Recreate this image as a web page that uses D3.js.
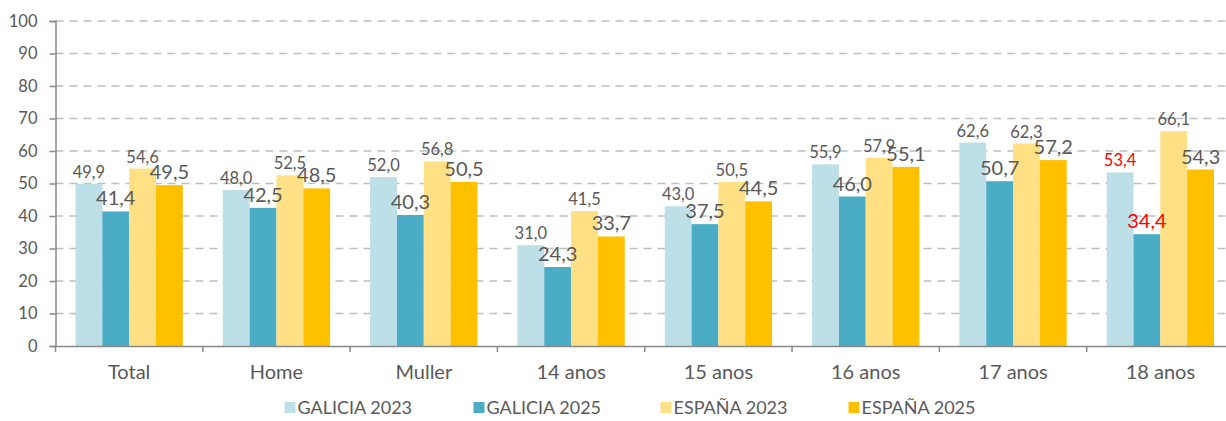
<!DOCTYPE html>
<html>
<head>
<meta charset="utf-8">
<script src="https://cdn.jsdelivr.net/npm/d3@7"></script>
<style>
  body { margin: 0; background: #fff; overflow: hidden; }
  text { font-family: Lato, "Open Sans", sans-serif; }
</style>
</head>
<body>
<div id="chart"></div>
<script>
// data
var categories = ["Total", "Home", "Muller", "14 anos", "15 anos", "16 anos", "17 anos", "18 anos"]
var seriesNames = ["GALICIA 2023", "GALICIA 2025", "ESPAÑA 2023", "ESPAÑA 2025"]
var galicia2023 = [49.9, 48.0, 52.0, 31.0, 43.0, 55.9, 62.6, 53.4]
var galicia2025 = [41.4, 42.5, 40.3, 24.3, 37.5, 46.0, 50.7, 34.4]
var espana2023 = [54.6, 52.5, 56.8, 41.5, 50.5, 57.9, 62.3, 66.1]
var espana2025 = [49.5, 48.5, 50.5, 33.7, 44.5, 55.1, 57.2, 54.3]
var yTicks = [0, 10, 20, 30, 40, 50, 60, 70, 80, 90, 100]

var colors = ["#BCDFE8", "#4BACC6", "#FFE084", "#FFC000"]
var labelSize = [16.5, 20, 16.5, 20]

var margin = {top: 21, right: -8, bottom: 75, left: 55.5},
    width = 1226 - margin.left - margin.right,
    height = 421 - margin.top - margin.bottom

var svg = d3.select("#chart")
  .append("svg")
    .attr("width", 1226)
    .attr("height", 421)
  .append("g")
    .attr("transform", "translate(" + margin.left + "," + margin.top + ")")

var y = d3.scaleLinear().domain([0, 100]).range([height, 0])
var x = d3.scaleBand().domain(categories).range([0, width])
var xs = d3.scaleBand().domain(seriesNames).range([20, x.bandwidth() - 20])

// gridlines
svg.selectAll(".grid")
  .data(yTicks.filter(function(d) { return d > 0 }))
  .enter()
  .append("line")
    .attr("x1", 0)
    .attr("x2", width)
    .attr("y1", function(d) { return y(d) })
    .attr("y2", function(d) { return y(d) })
    .style("stroke", "#bfbfbf")
    .style("stroke-width", "1.5px")
    .style("stroke-dasharray", "8,6")

// bars
var rows = categories.map(function(c, i) {
  return [galicia2023[i], galicia2025[i], espana2023[i], espana2025[i]].map(function(v, k) {
    return {cat: c, series: seriesNames[k], k: k, value: v}
  })
})

var groups = svg.selectAll(".group")
  .data(rows)
  .enter()
  .append("g")
    .attr("transform", function(d, i) { return "translate(" + x(categories[i]) + ",0)" })

groups.selectAll("rect")
  .data(function(d) { return d })
  .enter()
  .append("rect")
    .attr("x", function(d) { return xs(d.series) })
    .attr("y", function(d) { return y(d.value) })
    .attr("width", xs.bandwidth())
    .attr("height", function(d) { return height - y(d.value) })
    .attr("fill", function(d) { return colors[d.k] })

groups.selectAll("text")
  .data(function(d) { return d })
  .enter()
  .append("text")
    .attr("x", function(d) { return xs(d.series) + xs.bandwidth() / 2 })
    .attr("y", function(d) { return y(d.value) - 6 })
    .attr("text-anchor", "middle")
    .style("font-size", function(d) { return labelSize[d.k] + "px" })
    .style("fill", function(d) { return (d.cat == "18 anos" && d.k < 2) ? "#ff0000" : "#595959" })
    .text(function(d) { return d.value.toFixed(1).replace(".", ",") })

// y axis
var yAxis = svg.append("g")
  .call(d3.axisLeft(y).tickValues(yTicks).tickSize(6).tickPadding(12))
yAxis.select(".domain").style("stroke", "#898989").style("stroke-width", "1.5px")
yAxis.selectAll(".tick line").style("stroke", "#898989").style("stroke-width", "1.5px")
yAxis.selectAll("text").style("font-size", "16.5px").style("fill", "#595959")
  .style("font-family", "Lato, sans-serif")

// x axis
var xAxis = svg.append("g")
  .attr("transform", "translate(0," + height + ")")
  .call(d3.axisBottom(x).tickSize(0).tickPadding(19))
xAxis.select(".domain").style("stroke", "#898989").style("stroke-width", "1.5px")
xAxis.selectAll("text").style("font-size", "20px").style("fill", "#595959")
  .style("font-family", "Lato, sans-serif")

// category separators
svg.selectAll(".sep")
  .data(categories)
  .enter()
  .append("line")
    .attr("x1", function(d) { return x(d) })
    .attr("x2", function(d) { return x(d) })
    .attr("y1", height)
    .attr("y2", height + 6)
    .style("stroke", "#898989")
    .style("stroke-width", "1.5px")

// legend
var legendX = [229, 418, 605, 793]
var legend = svg.selectAll(".legend")
  .data(seriesNames)
  .enter()
  .append("g")
    .attr("transform", function(d, i) { return "translate(" + legendX[i] + "," + (height + 68) + ")" })
legend.append("rect")
  .attr("x", 0).attr("y", -12).attr("width", 11).attr("height", 11)
  .attr("fill", function(d, i) { return colors[i] })
legend.append("text")
  .attr("x", 13).attr("y", 0)
  .style("font-size", "18px").style("fill", "#595959")
  .text(function(d) { return d })
</script>
</body>
</html>
